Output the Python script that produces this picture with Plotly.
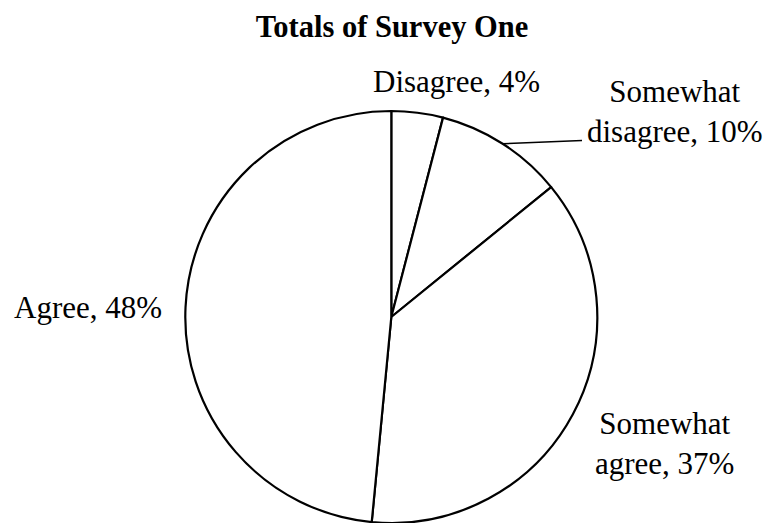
import math
import plotly.graph_objects as go

# Survey response shares (percent), in clockwise order from 12 o'clock
categories = ["Disagree", "Somewhat disagree", "Somewhat agree", "Agree"]
shares = [4, 10, 37, 48]
title_text = "Totals of Survey One"

W, H = 770, 523
FONT = "'Times New Roman', 'Liberation Serif', 'DejaVu Serif', serif"

# pie placement in pixels
cx, cy, r = 391.3, 317.0, 206.0


def px(x):
    return x / W


def py(y):
    return 1 - y / H


fig = go.Figure(
    go.Pie(
        labels=categories,
        values=shares,
        sort=False,
        direction="clockwise",
        rotation=0,
        textinfo="none",
        hoverinfo="skip",
        marker=dict(colors=["white"] * len(shares), line=dict(color="black", width=2.2)),
        domain=dict(x=[px(cx - r), px(cx + r)], y=[py(cy + r), py(cy - r)]),
        showlegend=False,
    )
)


def label(name, val, two_lines=False):
    if two_lines:
        first, rest = name.split(" ", 1)
        return f"{first}<br>{rest}, {val}%"
    return f"{name}, {val}%"


# label centres (pixels) for each slice
label_pos = [
    (456, 82, False),
    (675, 112, True),
    (664, 443, True),
    (88, 307, False),
]

annotations = []
for name, val, (lx, ly, two) in zip(categories, shares, label_pos):
    annotations.append(
        dict(
            text=label(name, val, two),
            x=px(lx), y=py(ly), xref="paper", yref="paper",
            xanchor="center", yanchor="middle", align="center",
            showarrow=False,
            font=dict(family=FONT, size=31, color="black"),
        )
    )

# leader line from the middle of the "Somewhat disagree" slice to its label
total = sum(shares)
mid = (shares[0] + shares[1] / 2) / total * 2 * math.pi
sx, sy = cx + r * math.sin(mid), cy - r * math.cos(mid)
shapes = [
    dict(type="line", xref="paper", yref="paper",
         x0=px(sx), y0=py(sy), x1=px(582), y1=py(140.5),
         line=dict(color="black", width=1.5))
]

fig.update_layout(
    width=W, height=H,
    margin=dict(l=0, r=0, t=0, b=0),
    paper_bgcolor="white", plot_bgcolor="white",
    font=dict(family=FONT, color="black"),
    title=dict(text=f"<b>{title_text}</b>", x=px(392), y=py(26),
               xanchor="center", yanchor="middle", xref="container", yref="container",
               font=dict(family=FONT, size=30.5, color="black")),
    annotations=annotations,
    shapes=shapes,
)

fig.write_html("out.html")
